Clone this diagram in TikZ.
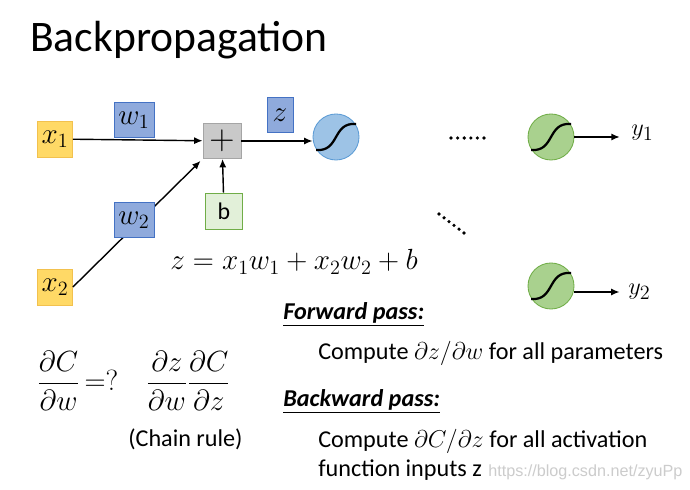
\documentclass[tikz,border=0pt]{standalone}
\usepackage[no-math]{fontspec}
\setmainfont{Carlito}
\newfontfamily\urlfont{Liberation Sans}
\usetikzlibrary{arrows.meta,positioning}
\definecolor{infill}{HTML}{FFD966}
\definecolor{inedge}{HTML}{F2C14E}
\definecolor{wfill}{HTML}{8FAADC}
\definecolor{wedge}{HTML}{4472C4}
\definecolor{plusfill}{HTML}{C9C9C9}
\definecolor{plusedge}{HTML}{A5A5A5}
\definecolor{bfill}{HTML}{E2F0D9}
\definecolor{bedge}{HTML}{70AD47}
\definecolor{sigfill}{HTML}{9DC3E6}
\definecolor{sigedge}{HTML}{5B9BD5}
\definecolor{outfill}{HTML}{A9D18E}
\definecolor{outedge}{HTML}{70AD47}
\begin{document}
\begin{tikzpicture}[x=0.025cm,y=-0.025cm,
    box/.style={draw,line width=0.6pt,inner sep=0pt,font=\fontsize{20}{20}\selectfont},
    xbox/.style={box,draw=inedge,fill=infill,minimum width=0.875cm,minimum height=0.9cm},
    wbox/.style={box,draw=wedge,fill=wfill,minimum width=1cm,minimum height=0.86cm},
    neuron/.style={circle,draw,line width=0.6pt,minimum size=1.15cm,inner sep=0pt},
    txt/.style={anchor=base west,inner sep=0pt,font=\fontsize{17.2}{19}\selectfont}]
  \useasboundingbox (0,0) rectangle (690,490);
  \fill[white] (0,0) rectangle (690,490);

  \node[anchor=base west,inner sep=0pt,font=\fontsize{31}{33}\selectfont] (title) at (30,52) {Backpropagation};

  % inputs, sum and neurons
  \node[xbox] (x1) at (55,139) {$x_1$};
  \node[xbox] (x2) at (55,287) {$x_2$};
  \node[box,draw=plusedge,fill=plusfill,minimum width=0.95cm,minimum height=0.875cm,font=\fontsize{24}{24}\selectfont] (plus) at (222,141) {$+$};
  \node[box,draw=bedge,fill=bfill,minimum width=0.925cm,minimum height=0.9cm,font=\fontsize{17}{18}\selectfont] (b) at (224,211) {b};
  \node[neuron,draw=sigedge,fill=sigfill] (sig) at (336,137) {};
  \node[neuron,draw=outedge,fill=outfill] (out1) at (551,137) {};
  \node[neuron,draw=outedge,fill=outfill] (out2) at (551,286) {};
  \node[anchor=west,inner sep=0pt,font=\fontsize{19}{20}\selectfont] (y1) at (631,133) {$y_1$};
  \node[anchor=west,inner sep=0pt,font=\fontsize{19}{20}\selectfont] (y2) at (628,292) {$y_2$};

  \begin{scope}[-{Latex[length=6pt,width=5pt]},line width=1pt]
    \draw (x1) -- (plus);
    \draw[shorten >=2pt] (x2.east) -- (plus.south west);
    \draw (b) -- (plus);
    \draw (plus.east) -- (plus.east -| sig.west);
    \draw[shorten >=8pt] (out1.east) -- (out1.east -| y1.west);
    \draw[shorten >=6pt] (out2.east |- y2.west) -- (y2.west);
  \end{scope}

  % weights sit on top of the wires
  \node[wbox] (w1) at (134,120) {$w_1$};
  \node[wbox] (w2) at (134,220) {$w_2$};
  \node[wbox,minimum width=0.65cm,minimum height=0.875cm] (zbox) at (280,115) {$z$};

  \foreach \n in {sig,out1,out2}
    \draw[line width=1.6pt] ([shift={(-20,13)}]\n.center) .. controls ([shift={(4,15)}]\n.center) and ([shift={(-4,-15)}]\n.center) .. ([shift={(20,-13)}]\n.center);

  \foreach \i in {0,...,5} {
    \fill (451+6.6*\i,138) circle (1.8);
    \fill (439+5*\i,214+3.8*\i) circle (1.8);
  }

  \node[anchor=base west,inner sep=0pt,font=\fontsize{21}{22}\selectfont] (zeq) at (170,270) {$z = x_1w_1 + x_2w_2 + b$};

  % forward / backward
  \node[anchor=west,inner sep=0pt,font=\fontsize{20}{22}\selectfont] (dCdw) at (37,381) {$\displaystyle\frac{\partial C}{\partial w}\,{=}?$};
  \node[anchor=west,inner sep=0pt,font=\fontsize{20}{22}\selectfont] (chain) at (146,381) {$\displaystyle\frac{\partial z}{\partial w}\frac{\partial C}{\partial z}$};
  \node[txt] (chainrule) at (128,447) {(Chain rule)};

  \node[txt,font=\bfseries\itshape\fontsize{17.2}{19}\selectfont] (fwd) at (283,320) {\underline{Forward pass:}};
  \node[txt] (fwdtxt) at (318,360) {Compute $\partial z/\partial w$ for all parameters};
  \node[txt,font=\bfseries\itshape\fontsize{17.2}{19}\selectfont] (bwd) at (283,407) {\underline{Backward pass:}};
  \node[txt] (bwdtxt) at (318,448) {Compute $\partial C/\partial z$ for all activation};
  \node[txt] (bwdtxt2) at (318,477) {function inputs z};
  \node[anchor=base west,inner sep=0pt,text=black!20,font=\urlfont\fontsize{11.5}{14}\selectfont] (url) at (488,477) {https://blog.csdn.net/zyuPp};
\end{tikzpicture}
\end{document}
